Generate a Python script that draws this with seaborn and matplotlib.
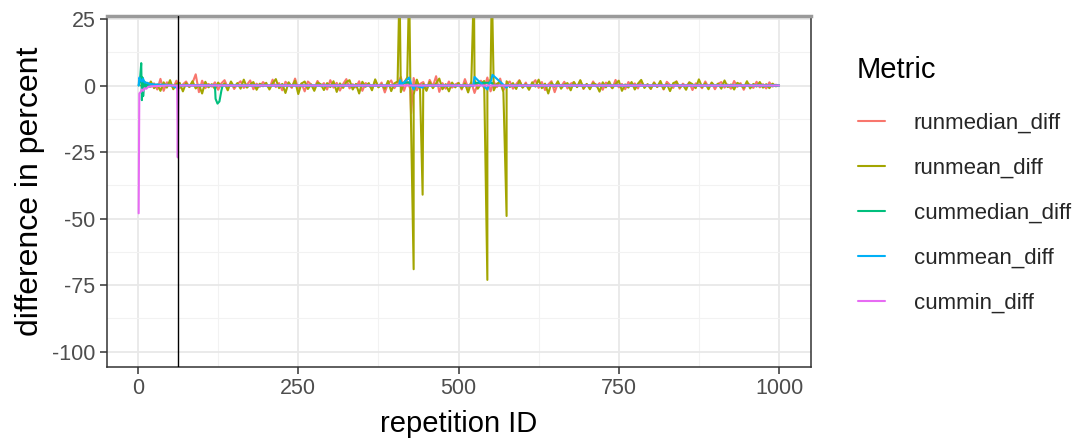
import numpy as np
import pandas as pd
import matplotlib
matplotlib.use("Agg")
import matplotlib.pyplot as plt
import seaborn as sns
from matplotlib.ticker import FixedLocator

# ---------------- data ----------------
metrics = ["runmedian_diff", "runmean_diff", "cummedian_diff", "cummean_diff", "cummin_diff"]
colors = ["#F8766D", "#A3A500", "#00BF7D", "#00B0F6", "#E76BF3"]

grid_x = list(range(5, 1001, 5))

runmedian_noise = [
    0.0, -1.2, 1.0, -0.5, 0.8, -1.5, 2.5, -2.0, 1.2, 0.5, -0.8, 1.8, -1.0, 0.4, 1.5, -0.6, 1.0, 4.2, -2.5, 1.8,
    -1.0, 0.6, -0.4, 1.2, -1.6, 0.8, 2.0, -0.7, 1.1, -1.3, 0.5, 1.6, -0.9, 0.3, 1.9, -1.4, 0.7, -0.5, 1.3, 0.2,
    -1.1, 2.2, -0.6, 0.9, -1.8, 1.4, 0.3, -0.9, 2.6, -1.2, 0.8, -2.2, 1.5, 0.4, -1.0, 1.7, -0.3, 0.9, -1.5, 2.0,
    -0.8, 1.0, -1.9, 0.6, 2.4, -1.1, 0.5, -0.7, 1.6, -2.0, 0.9, 0.2, -1.3, 1.8, -0.5, 1.1, -2.6, 0.7, 1.9, -1.0,
    0.8, 3.2, -2.0, 1.6, -1.4, 2.8, -1.8, 0.6, 1.3, -1.6, 2.1, -0.4, 3.5, -2.4, 0.9, -1.2, 1.5, -0.8, 0.4, 1.0,
    -1.5, 2.4, -0.9, 1.2, -2.8, 0.7, 1.8, -1.1, 3.0, -2.2, 1.4, -0.6, 2.6, -1.9, 0.8, 1.5, -1.2, 0.5, 2.0, -0.7,
    1.1, -1.4, 0.6, 2.0, -0.9, 1.3, -1.7, 0.4, 1.6, -2.5, 0.8, -0.3, 1.4, -1.1, 0.7, 1.2, -0.6, 1.8, -1.3, 0.5,
    -0.8, 1.5, -0.4, 0.9, -1.6, 1.1, 0.3, -1.0, 2.1, -0.7, 0.6, -1.4, 1.3, -0.2, 0.8, -1.1, 1.7, -0.5, 0.4, -1.3,
    1.2, -0.6, 0.9, -1.5, 1.4, 0.2, -0.9, 1.6, -1.2, 0.7, -0.3, 1.1, -1.7, 0.8, 0.3, -1.0, 1.5, -0.6, 1.0, -1.4,
    0.6, 1.3, -0.8, 0.4, -1.2, 1.7, -0.5, 0.9, -1.6, 1.0, 0.2, -0.9, 1.4, -0.7, 0.5, -1.1, 1.2, -0.4, 0.3, 0.0,
]
runmedian_spike_x = [426]
runmedian_spike_y = [-10.5]

runmean_noise = [
    0.0, 0.8, -0.6, 1.5, -1.0, 0.4, -2.0, 1.2, -0.8, 2.0, -1.4, 0.6, 1.0, -2.2, 0.9, -0.5, 1.6, -1.1, 0.3, -3.0,
    1.4, -0.7, 0.5, -1.3, 1.1, -0.4, 0.8, -1.8, 1.5, -0.6, 0.9, -1.2, 2.2, -0.8, 0.4, 1.3, -1.6, 0.7, -0.3, 1.0,
    -1.5, 0.8, 2.4, -1.0, 0.6, -2.8, 1.2, -0.5, 1.8, -3.2, 0.7, 1.5, -1.3, 0.4, -2.0, 1.1, 0.5, -1.7, 0.9, -0.6,
    1.6, -2.4, 0.8, -0.9, 1.3, 2.0, -1.5, 0.6, -3.0, 1.4, -0.5, 0.9, -1.8, 2.3, -0.7, 0.4, -1.2, 1.7, -2.1, 0.8,
    1.5, -2.5, 1.0, 3.0, -1.8, -3.5, 2.2, -1.5, 0.6, -2.0, 1.3, -1.0, 0.8, 2.6, -1.4, 0.5, -2.2, 1.1, -0.7, 0.9,
    -1.1, 0.8, -2.6, 1.4, 2.0, -1.2, 0.6, 1.7, -0.9, 2.5, -1.8, 0.7, 1.2, -2.4, 1.6, -0.6, 0.9, -1.3, 1.8, -0.8,
    0.5, -1.6, 1.2, -0.4, 2.2, -1.0, 0.7, -3.0, 1.1, -0.5, 1.6, -1.2, 0.4, 0.9, -1.8, 1.3, -0.6, 2.0, -1.1, 0.6,
    -1.4, 0.9, 0.3, -2.3, 1.2, -0.7, 1.5, -1.0, 0.6, 1.8, -2.0, 0.4, -0.8, 1.3, -1.5, 0.7, 2.1, -0.9, 0.5, -1.2,
    1.0, -0.5, 1.7, -1.3, 0.6, -2.1, 0.9, 1.4, -0.8, 0.3, -1.6, 1.2, 0.5, -1.0, 2.3, -0.6, 0.8, -1.4, 1.1, -0.3,
    0.7, -1.2, 1.9, -0.6, 0.4, -1.5, 1.0, 0.3, -0.9, 1.6, -1.1, 0.6, -0.4, 1.3, -0.8, 0.5, -1.0, 0.7, -0.3, 0.0,
]
runmean_spike_x = [408, 423, 430, 444, 524, 545, 552, 575]
runmean_spike_y = [38.0, 38.0, -69.0, -41.0, 38.0, -73.0, 38.0, -49.0]

cummedian_x = [1, 3, 5, 6, 7, 8, 10, 12, 15, 18, 22, 26, 30, 40, 50, 120, 121, 124, 127, 130, 132,
               300, 408, 410, 423, 425, 524, 526, 552, 554, 1000]
cummedian_y = [0.0, 2.0, 8.4, -5.5, 3.0, -4.0, 1.5, -1.0, 0.8, -0.5, 0.4, -0.3, 0.2, 0.1, 0.0, 0.0, -5.0, -6.8, -6.0, -2.0, 0.0,
               0.0, 0.0, 0.8, 1.2, 0.0, 0.0, 1.0, 1.0, 0.0, 0.0]

cummean_x = [1, 2, 4, 6, 8, 10, 14, 18, 25, 35, 50, 62, 64, 80, 200, 407, 409, 411, 421, 423, 426, 430, 432,
             444, 446, 523, 525, 545, 547, 551, 553, 575, 577, 700, 1000]
cummean_y = [0.0, 3.0, 2.0, 1.5, 2.5, 1.2, 1.0, 0.6, 0.4, 0.3, 0.2, -1.0, 0.1, 0.1, 0.0, 0.0, 2.0, 0.3, 2.5, 3.0, 0.5, -1.5, 0.0,
             -0.8, 0.0, 0.0, 3.2, -1.5, 0.0, 2.0, 4.0, -0.8, 0.0, 0.0, 0.0]

cummin_x = [1, 2, 4, 6, 8, 10, 13, 16, 20, 30, 45, 61, 62, 63, 1000]
cummin_y = [-48.0, -3.0, -2.5, -1.5, -2.0, -1.0, -1.2, -0.5, -0.3, -0.2, 0.0, 0.0, -27.0, 0.0, 0.0]

x_ticks = [0, 250, 500, 750, 1000]
y_ticks = [-100, -75, -50, -25, 0, 25]
cutoff_rep = 63

# ---------------- build long table ----------------
def frame(name, xs, ys):
    return pd.DataFrame({"rep": xs, "value": ys, "Metric": name})

rm = pd.concat([frame(metrics[0], grid_x, runmedian_noise),
                frame(metrics[0], runmedian_spike_x, runmedian_spike_y)])
rn = pd.concat([frame(metrics[1], grid_x, runmean_noise),
                frame(metrics[1], runmean_spike_x, runmean_spike_y)])
df = pd.concat([rm, rn,
                frame(metrics[2], cummedian_x, cummedian_y),
                frame(metrics[3], cummean_x, cummean_y),
                frame(metrics[4], cummin_x, cummin_y)], ignore_index=True)
df = df.sort_values(["Metric", "rep"]).reset_index(drop=True)

# ---------------- plot ----------------
sns.set_theme(style="white")
plt.rcParams["font.family"] = ["Liberation Sans", "DejaVu Sans"]

fig = plt.figure(figsize=(10.86, 4.41), dpi=100)
ax = fig.add_axes([0.0982, 0.1685, 0.7468 - 0.0982, 0.9637 - 0.1685])

sns.lineplot(data=df, x="rep", y="value", hue="Metric", hue_order=metrics,
             palette=colors, estimator=None, sort=True, linewidth=1.5, ax=ax)

ax.axvline(cutoff_rep, color="black", linewidth=1.0, zorder=5)

ax.set_xlim(-48.95, 1049.95)
ax.set_ylim(-105.6, 26.1)
ax.xaxis.set_major_locator(FixedLocator(x_ticks))
ax.yaxis.set_major_locator(FixedLocator(y_ticks))
ax.xaxis.set_minor_locator(FixedLocator([125, 375, 625, 875]))
ax.yaxis.set_minor_locator(FixedLocator([-87.5, -62.5, -37.5, -12.5, 12.5]))
ax.set_xticklabels([str(v) for v in x_ticks])
ax.set_yticklabels([str(v) for v in y_ticks])

ax.grid(which="major", color="#E8E8E8", linewidth=1.3, zorder=0)
ax.grid(which="minor", color="#F2F2F2", linewidth=0.8, zorder=0)
ax.set_axisbelow(True)

for side in ["left", "bottom", "right"]:
    ax.spines[side].set_color("#333333")
    ax.spines[side].set_linewidth(1.1)
ax.spines["top"].set_color("#9A9A9A")
ax.spines["top"].set_linewidth(2.5)

ax.tick_params(axis="both", which="major", length=5, width=1.1, color="#333333",
               labelsize=15.5, labelcolor="#4D4D4D", pad=3, bottom=True, left=True)
ax.tick_params(axis="both", which="minor", length=0)

ax.set_xlabel("repetition ID", fontsize=21, color="black", labelpad=8)
ax.set_ylabel("difference in percent", fontsize=23, color="black", labelpad=5)

handles, labels = ax.get_legend_handles_labels()
ax.get_legend().remove()
for h in handles:
    h.set_linewidth(1.5)
fig.text(857 / 1086, 1 - 70 / 441, "Metric", fontsize=21, color="black",
         ha="left", va="center")
fig.legend(handles, labels, loc="upper left", bbox_to_anchor=(858 / 1086, 1 - 113 / 441),
           frameon=False, fontsize=16, borderpad=0, borderaxespad=0,
           handlelength=1.2, handletextpad=1.3, labelspacing=1.08)

fig.savefig("out.png", dpi=100, facecolor="white")
